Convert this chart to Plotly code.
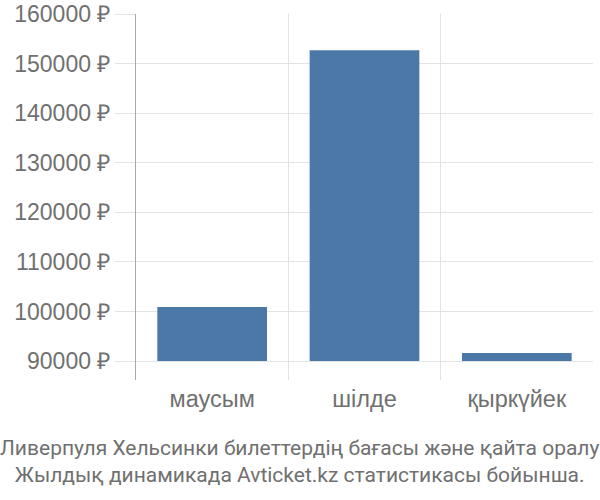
import plotly.graph_objects as go

months = ["маусым", "шілде", "қыркүйек"]
prices = [100900, 152700, 91600]
base_price = 90000
y_ticks = [90000, 100000, 110000, 120000, 130000, 140000, 150000, 160000]
y_labels = [f"{v} ₽" for v in y_ticks]
caption = ["Ливерпуля Хельсинки билеттердің бағасы және қайта оралу",
           "Жылдық динамикада Avticket.kz статистикасы бойынша."]

trace = go.Bar(
    x=months,
    y=[p - base_price for p in prices],
    base=base_price,
    marker=dict(color="#4c78a8", line=dict(width=0)),
    width=0.72,
)

fig = go.Figure(data=[trace])

fig.update_layout(
    width=600, height=500,
    margin=dict(l=136, r=7, t=14, b=120, autoexpand=False),
    plot_bgcolor="white",
    paper_bgcolor="white",
    showlegend=False,
    font=dict(family="Liberation Sans, Arial", color="#707070"),
    xaxis=dict(
        tickson="boundaries",
        showgrid=True, gridcolor="#e3e3e3", gridwidth=1,
        ticks="", tickfont=dict(size=23.5, color="#707070"),
        ticklabelstandoff=2,
        automargin=False,
    ),
    yaxis=dict(
        range=[86170, 160005],
        tickvals=y_ticks,
        ticktext=y_labels,
        showgrid=True, gridcolor="#e3e3e3", gridwidth=1,
        zeroline=False,
        ticks="outside", ticklen=20, tickcolor="#e3e3e3",
        showline=True, linecolor="#aaaaaa", linewidth=1,
        tickfont=dict(size=23, color="#707070"),
        ticklabeloverflow="allow",
        automargin=False,
    ),
    annotations=[dict(
        text="<br>".join(caption),
        xref="paper", yref="paper", x=(300 - 136) / 457, y=-0.148,
        xanchor="center", yanchor="top", showarrow=False,
        align="center",
        font=dict(family="Liberation Sans Narrow, Roboto", size=21, color="#707070"),
    )],
)

# drop the default page margin so the figure sits at the window corner
fig.write_html("out.html", config={"displayModeBar": False},
               post_script="document.body.style.margin='0';")
